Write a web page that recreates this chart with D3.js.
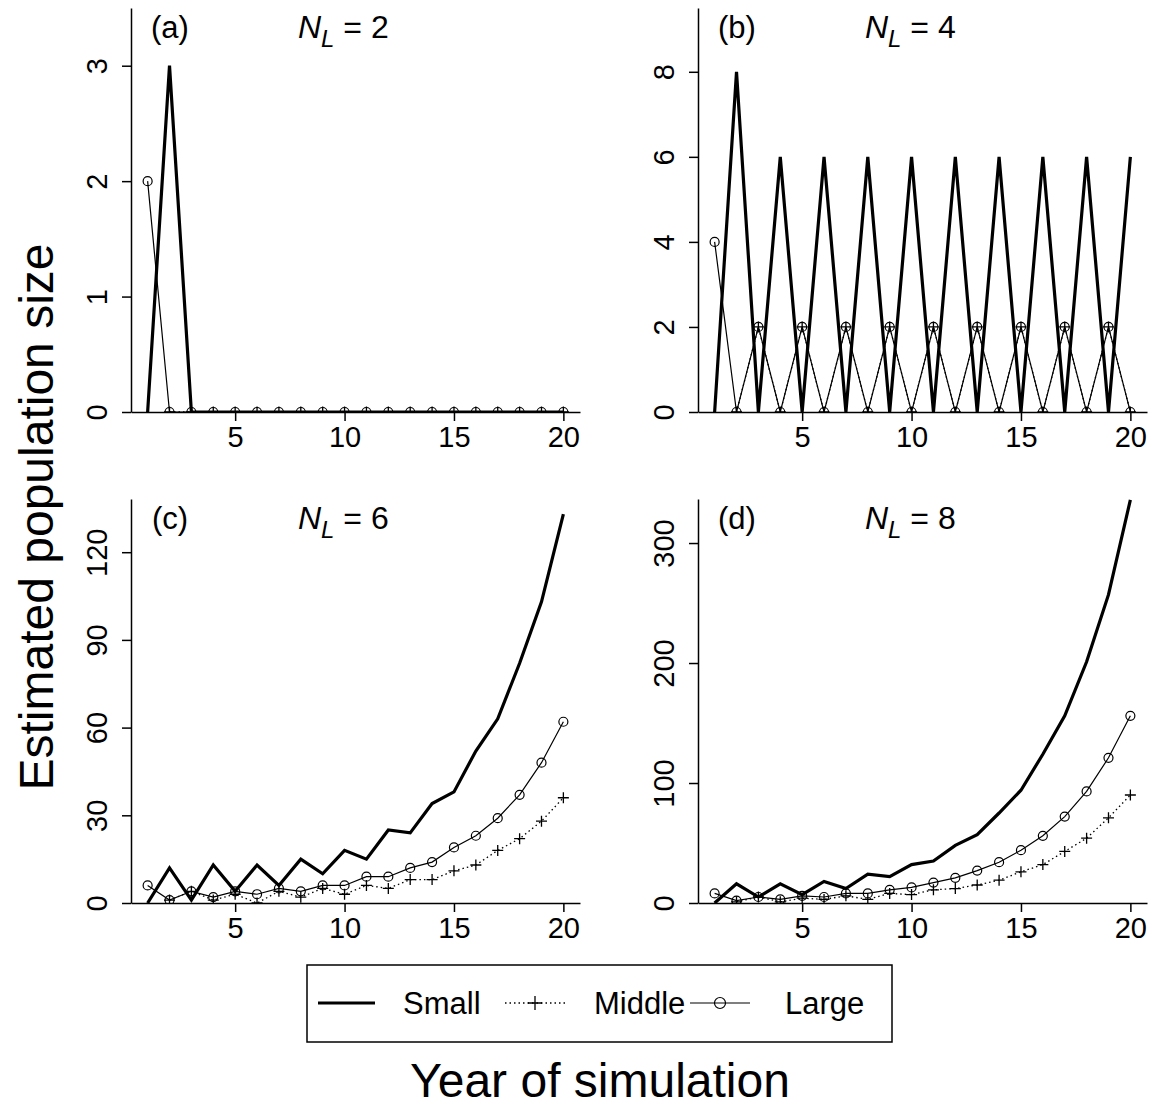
<!DOCTYPE html>
<html>
<head>
<meta charset="utf-8">
<script src="https://cdn.jsdelivr.net/npm/d3@7"></script>
<style>
  body { margin: 0; background: #fff; }
  text { font-family: "Liberation Sans", Arial, sans-serif; fill: #000; }
</style>
</head>
<body>
<div id="myChart"></div>
<script>
// years of simulation
const years = [1, 2, 3, 4, 5, 6, 7, 8, 9, 10, 11, 12, 13, 14, 15, 16, 17, 18, 19, 20];

// N_L = 2
const smallA = [0, 3, 0, 0, 0, 0, 0, 0, 0, 0, 0, 0, 0, 0, 0, 0, 0, 0, 0, 0];
const middleA = [null, 0, 0, 0, 0, 0, 0, 0, 0, 0, 0, 0, 0, 0, 0, 0, 0, 0, 0, 0];
const largeA = [2, 0, 0, 0, 0, 0, 0, 0, 0, 0, 0, 0, 0, 0, 0, 0, 0, 0, 0, 0];

// N_L = 4
const smallB = [0, 8, 0, 6, 0, 6, 0, 6, 0, 6, 0, 6, 0, 6, 0, 6, 0, 6, 0, 6];
const middleB = [null, 0, 2, 0, 2, 0, 2, 0, 2, 0, 2, 0, 2, 0, 2, 0, 2, 0, 2, 0];
const largeB = [4, 0, 2, 0, 2, 0, 2, 0, 2, 0, 2, 0, 2, 0, 2, 0, 2, 0, 2, 0];

// N_L = 6
const smallC = [0, 12, 1, 13, 4, 13, 6, 15, 10, 18, 15, 25, 24, 34, 38, 52, 63, 82, 103, 133];
const middleC = [null, 1, 4, 1, 3, 0, 4, 2, 5, 3, 6, 5, 8, 8, 11, 13, 18, 22, 28, 36];
const largeC = [6, 1, 4, 2, 4, 3, 5, 4, 6, 6, 9, 9, 12, 14, 19, 23, 29, 37, 48, 62];

// N_L = 8
const smallD = [0, 16, 5, 16, 7, 18, 12, 24, 22, 32, 35, 48, 57, 75, 94, 124, 156, 201, 257, 336];
const middleD = [null, 1, 5, 1, 4, 3, 6, 3, 8, 7, 11, 12, 15, 19, 26, 32, 43, 54, 71, 90];
const largeD = [8, 2, 5, 3, 6, 5, 8, 8, 11, 13, 17, 21, 27, 34, 44, 56, 72, 93, 121, 156];

// axis ticks
const xTicks = [5, 10, 15, 20];
const yTicksA = [0, 1, 2, 3];
const yTicksB = [0, 2, 4, 6, 8];
const yTicksC = [0, 30, 60, 90, 120];
const yTicksD = [0, 100, 200, 300];
const yMaxes = [3.5, 9.5, 138.2, 336.7];

const panelLabels = ["(a)", "(b)", "(c)", "(d)"];
const nlValues = [2, 4, 6, 8];
const seriesNames = ["Small", "Middle", "Large"];

const W = 1159, H = 1106;
const font = '"Liberation Sans", Arial, sans-serif';

const svg = d3.select("#myChart").append("svg")
  .attr("width", W).attr("height", H)
  .style("display", "block");

// plot regions (left, right, top, bottom)
const boxes = [
  { x0: 131, x1: 580, y0: 8, y1: 412 },
  { x0: 698, x1: 1147, y0: 8, y1: 412 },
  { x0: 131, x1: 580, y0: 499, y1: 903 },
  { x0: 698, x1: 1147, y0: 499, y1: 903 }
];

const panels = [
  { small: smallA, middle: middleA, large: largeA, yTicks: yTicksA },
  { small: smallB, middle: middleB, large: largeB, yTicks: yTicksB },
  { small: smallC, middle: middleC, large: largeC, yTicks: yTicksC },
  { small: smallD, middle: middleD, large: largeD, yTicks: yTicksD }
];

panels.forEach((p, i) => {
  const b = boxes[i];
  const x = d3.scaleLinear().domain([0.24, 20.76]).range([b.x0, b.x1]);
  const y = d3.scaleLinear().domain([0, yMaxes[i]]).range([b.y1, b.y0]);

  const g = svg.append("g");

  // clip lines and points to the plot region, like R does
  svg.append("clipPath").attr("id", "clip" + i)
    .append("rect")
    .attr("x", b.x0).attr("y", b.y0)
    .attr("width", b.x1 - b.x0).attr("height", b.y1 - b.y0);

  const plot = g.append("g").attr("clip-path", "url(#clip" + i + ")");

  const toPts = (vals) => years.map((yr, k) => ({ x: yr, v: vals[k] })).filter((d) => d.v !== null);
  const line = d3.line().x((d) => x(d.x)).y((d) => y(d.v));

  // Large: thin solid with circles
  const lg = toPts(p.large);
  plot.append("path").datum(lg)
    .attr("d", line).attr("fill", "none")
    .attr("stroke", "#000").attr("stroke-width", 1.2);

  // Middle: dotted with plus
  const md = toPts(p.middle);
  plot.append("path").datum(md)
    .attr("d", line).attr("fill", "none")
    .attr("stroke", "#000").attr("stroke-width", 1.3)
    .attr("stroke-dasharray", "1.5,3");

  // Small: thick solid
  const sm = toPts(p.small);
  plot.append("path").datum(sm)
    .attr("d", line).attr("fill", "none")
    .attr("stroke", "#000").attr("stroke-width", 3.2)
    .attr("stroke-linejoin", "miter");

  plot.selectAll(".pt-large").data(lg).enter().append("circle")
    .attr("cx", (d) => x(d.x)).attr("cy", (d) => y(d.v))
    .attr("r", 4.5).attr("fill", "none")
    .attr("stroke", "#000").attr("stroke-width", 1.2);

  plot.selectAll(".pt-middle").data(md).enter().append("path")
    .attr("d", (d) => {
      const cx = x(d.x), cy = y(d.v), s = 5.5;
      return `M${cx - s},${cy}H${cx + s}M${cx},${cy - s}V${cy + s}`;
    })
    .attr("stroke", "#000").attr("stroke-width", 1.3);

  // axes
  const xa = g.append("g")
    .attr("transform", "translate(0," + b.y1 + ")")
    .call(d3.axisBottom(x).tickValues(xTicks).tickSize(9).tickSizeOuter(0).tickPadding(5));
  xa.selectAll("text").style("font-size", "29px").style("font-family", font)
    .attr("dy", "0.71em");

  const ya = g.append("g")
    .attr("transform", "translate(" + b.x0 + ",0)")
    .call(d3.axisLeft(y).tickValues(p.yTicks).tickFormat(d3.format("d")).tickSize(9).tickSizeOuter(0));
  ya.selectAll("text")
    .style("font-size", "29px").style("font-family", font)
    .attr("text-anchor", "middle")
    .attr("transform", "rotate(-90)")
    .attr("x", 0).attr("y", -24).attr("dy", 0);

  g.selectAll(".domain").attr("stroke-width", 1.5);
  g.selectAll(".tick line").attr("stroke-width", 1.5);

  // panel label and N_L
  g.append("text")
    .attr("x", b.x0 + 39).attr("y", b.y0 + 30)
    .attr("text-anchor", "middle")
    .style("font-size", "31px")
    .text(panelLabels[i]);

  const t = g.append("text")
    .attr("x", b.x0 + 167).attr("y", b.y0 + 30)
    .style("font-size", "32px");
  t.append("tspan").style("font-style", "italic").text("N");
  t.append("tspan").style("font-style", "italic").style("font-size", "24px")
    .attr("dy", 9).text("L");
  t.append("tspan").attr("dy", -9).text(" = " + nlValues[i]);
});

// axis titles
svg.append("text")
  .attr("transform", "translate(53,517) rotate(-90)")
  .attr("text-anchor", "middle")
  .style("font-size", "48px")
  .text("Estimated population size");

svg.append("text")
  .attr("x", 600).attr("y", 1097)
  .attr("text-anchor", "middle")
  .style("font-size", "48px")
  .text("Year of simulation");

// legend
const leg = svg.append("g");
leg.append("rect")
  .attr("x", 307).attr("y", 965).attr("width", 585).attr("height", 77)
  .attr("fill", "none").attr("stroke", "#000").attr("stroke-width", 1.5);

const ly = 1003;
const legendItems = [
  { x0: 318, x1: 375, tx: 403, w: 3.2, dash: null, mark: null },
  { x0: 505, x1: 565, tx: 594, w: 1.3, dash: "1.5,3", mark: "plus" },
  { x0: 690, x1: 750, tx: 785, w: 1.2, dash: null, mark: "circle" }
];
legendItems.forEach((it, k) => {
  leg.append("line")
    .attr("x1", it.x0).attr("x2", it.x1).attr("y1", ly).attr("y2", ly)
    .attr("stroke", "#000").attr("stroke-width", it.w)
    .attr("stroke-dasharray", it.dash);
  const cx = (it.x0 + it.x1) / 2;
  if (it.mark === "plus") {
    leg.append("path")
      .attr("d", `M${cx - 7},${ly}H${cx + 7}M${cx},${ly - 7}V${ly + 7}`)
      .attr("stroke", "#000").attr("stroke-width", 1.3);
  } else if (it.mark === "circle") {
    leg.append("circle").attr("cx", cx).attr("cy", ly).attr("r", 5.5)
      .attr("fill", "none").attr("stroke", "#000").attr("stroke-width", 1.2);
  }
  leg.append("text")
    .attr("x", it.tx).attr("y", ly + 11)
    .style("font-size", "31px")
    .text(seriesNames[k]);
});
</script>
</body>
</html>
